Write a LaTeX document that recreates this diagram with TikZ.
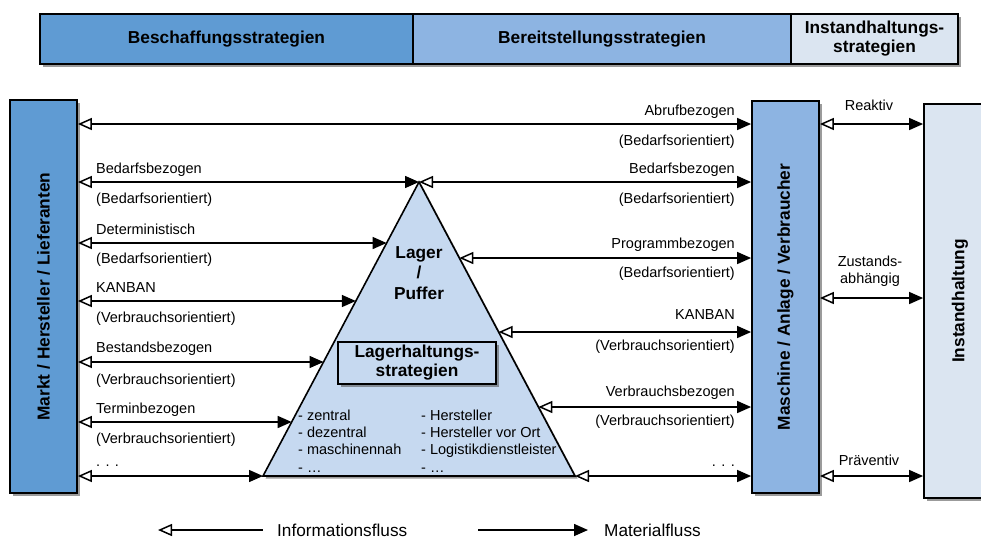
\documentclass[tikz,border=0pt]{standalone}
\usepackage{fontspec}
\setmainfont{Liberation Sans}
\usetikzlibrary{arrows.meta,shadows}

\definecolor{blaudunkel}{RGB}{95,155,211}
\definecolor{blaumittel}{RGB}{141,180,226}
\definecolor{blauhell}{RGB}{219,229,241}
\definecolor{blaulager}{RGB}{198,217,240}

\tikzset{
  schatten/.style={drop shadow={shadow xshift=2.5pt,shadow yshift=-2.5pt,opacity=.6,fill=black!65}},
  kopf/.style={draw=black,line width=1.8pt,minimum height=50pt,inner sep=0pt,align=center,
    font=\bfseries\fontsize{17.3}{19}\selectfont,schatten},
  saeule/.style={draw=black,line width=1.8pt,minimum width=67pt,inner sep=0pt,schatten},
  senk/.style={rotate=90,font=\bfseries\fontsize{17.3}{19}\selectfont,inner sep=0pt},
  txt/.style={font=\fontsize{14.5}{17.4}\selectfont,inner sep=0pt},
  fluss/.style={line width=1.5pt,
    {Triangle[open,fill=white,length=14pt,width=12pt]}-{Triangle[length=14pt,width=12pt]}}
}

\begin{document}
\begin{tikzpicture}[x=1pt,y=-1pt]
  \useasboundingbox (0,0) rectangle (981,539);
  % Kopfzeile
  \node[kopf,fill=blaudunkel,minimum width=373pt] (beschaffung) at (226.5,39) {Beschaffungsstrategien};
  \node[kopf,fill=blaumittel,minimum width=378pt] (bereitstellung) at (602,39) {Bereitstellungsstrategien};
  \node[kopf,fill=blauhell,minimum width=167pt] (instkopf) at (874.5,39) {Instandhaltungs-\\strategien};
  % Saeulen
  \node[saeule,fill=blaudunkel,minimum height=393pt] (markt) at (43.5,296.5) {};
  \node[senk] (markttxt) at (markt) {Markt / Hersteller / Lieferanten};
  \node[saeule,fill=blaumittel,minimum height=392pt] (masch) at (785.5,297) {};
  \node[senk] (maschtxt) at (masch) {Maschine / Anlage / Verbraucher};
  \node[saeule,fill=blauhell,minimum width=72pt,minimum height=394pt] (inst) at (960,301) {};
  \node[senk] (insttxt) at (inst) {Instandhaltung};
  % Lager / Puffer
  \coordinate (apex) at (419,182);
  \coordinate (bl) at (263,476);
  \coordinate (br) at (575,476);
  \filldraw[fill=blaulager,line width=1.6pt,schatten] (apex) -- (bl) -- (br) -- cycle;
  \node[align=center,font=\bfseries\fontsize{17.3}{20.5}\selectfont,inner sep=0pt] (lager) at (419,273) {Lager\\/\\Puffer};
  \node[draw,line width=1.8pt,fill=blaulager,minimum width=158pt,minimum height=42pt,inner sep=0pt,align=center,
    font=\bfseries\fontsize{17.3}{19}\selectfont,schatten] (lhs) at (417,363) {Lagerhaltungs-\\strategien};
  \node[txt,align=left,anchor=west] (ort) at (298,441) {- zentral\\- dezentral\\- maschinennah\\- …};
  \node[txt,align=left,anchor=west] (wer) at (421,441) {- Hersteller\\- Hersteller vor Ort\\- Logistikdienstleister\\- …};
  % Punkte auf den Dreiecksseiten
  \path (bl) -- (apex) coordinate[pos=.7925] (tl3) coordinate[pos=.5952] (tl4)
    coordinate[pos=.3878] (tl5) coordinate[pos=.1837] (tl6);
  \path (br) -- (apex) coordinate[pos=.7415] (tr3) coordinate[pos=.4898] (tr4)
    coordinate[pos=.2347] (tr5);
  \coordinate (row1) at (420,124);
  \coordinate (rowz) at (870,298);
  % Fluesse
  \draw[fluss] (markt.east |- row1) -- (masch.west |- row1);
  \draw[fluss] (markt.east |- apex) -- (apex);
  \draw[fluss] (markt.east |- tl3) -- (tl3);
  \draw[fluss] (markt.east |- tl4) -- (tl4);
  \draw[fluss] (markt.east |- tl5) -- (tl5);
  \draw[fluss] (markt.east |- tl6) -- (tl6);
  \draw[fluss] (markt.east |- bl) -- (bl);
  \draw[fluss] (apex) -- (masch.west |- apex);
  \draw[fluss] (tr3) -- (masch.west |- tr3);
  \draw[fluss] (tr4) -- (masch.west |- tr4);
  \draw[fluss] (tr5) -- (masch.west |- tr5);
  \draw[fluss] (br) -- (masch.west |- br);
  \draw[fluss] (masch.east |- row1) -- (inst.west |- row1);
  \draw[fluss] (masch.east |- rowz) -- (inst.west |- rowz);
  \draw[fluss] (masch.east |- br) -- (inst.west |- br);
  % Beschriftung links
  \node[txt,anchor=base west] (l2a) at (96,173) {Bedarfsbezogen};
  \node[txt,anchor=base west] (l2b) at (96,203) {(Bedarfsorientiert)};
  \node[txt,anchor=base west] (l3a) at (96,234) {Deterministisch};
  \node[txt,anchor=base west] (l3b) at (96,263) {(Bedarfsorientiert)};
  \node[txt,anchor=base west] (l4a) at (96,292) {KANBAN};
  \node[txt,anchor=base west] (l4b) at (96,322) {(Verbrauchsorientiert)};
  \node[txt,anchor=base west] (l5a) at (96,352) {Bestandsbezogen};
  \node[txt,anchor=base west] (l5b) at (96,384) {(Verbrauchsorientiert)};
  \node[txt,anchor=base west] (l6a) at (96,413) {Terminbezogen};
  \node[txt,anchor=base west] (l6b) at (96,443) {(Verbrauchsorientiert)};
  \node[txt,anchor=base west] (l7a) at (96,466) {. . .};
  % Beschriftung rechts
  \node[txt,anchor=base east] (r1a) at (735,115) {Abrufbezogen};
  \node[txt,anchor=base east] (r1b) at (735,145) {(Bedarfsorientiert)};
  \node[txt,anchor=base east] (r2a) at (735,173) {Bedarfsbezogen};
  \node[txt,anchor=base east] (r2b) at (735,203) {(Bedarfsorientiert)};
  \node[txt,anchor=base east] (r3a) at (735,248) {Programmbezogen};
  \node[txt,anchor=base east] (r3b) at (735,277) {(Bedarfsorientiert)};
  \node[txt,anchor=base east] (r4a) at (735,319) {KANBAN};
  \node[txt,anchor=base east] (r4b) at (735,350) {(Verbrauchsorientiert)};
  \node[txt,anchor=base east] (r5a) at (735,396) {Verbrauchsbezogen};
  \node[txt,anchor=base east] (r5b) at (735,425) {(Verbrauchsorientiert)};
  \node[txt,anchor=base east] (r7a) at (735,466) {. . .};
  % Instandhaltung
  \node[txt,anchor=base] (reaktiv) at (869,110) {Reaktiv};
  \node[txt,align=center] (zustand) at (870,271) {Zustands-\\abhängig};
  \node[txt,anchor=base] (praeventiv) at (869,465) {Präventiv};
  % Legende
  \coordinate (infoa) at (158,530);
  \coordinate (infob) at (263,530);
  \coordinate (mata) at (478,530);
  \coordinate (matb) at (588,530);
  \draw[line width=1.5pt,{Triangle[open,fill=white,length=14pt,width=12pt]}-] (infoa) -- (infob);
  \draw[line width=1.5pt,-{Triangle[length=14pt,width=12pt]}] (mata) -- (matb);
  \node[font=\fontsize{17.2}{19}\selectfont,inner sep=0pt,anchor=base west] (infotxt) at (277,536) {Informationsfluss};
  \node[font=\fontsize{17.2}{19}\selectfont,inner sep=0pt,anchor=base west] (mattxt) at (604,536) {Materialfluss};
\end{tikzpicture}
\end{document}
